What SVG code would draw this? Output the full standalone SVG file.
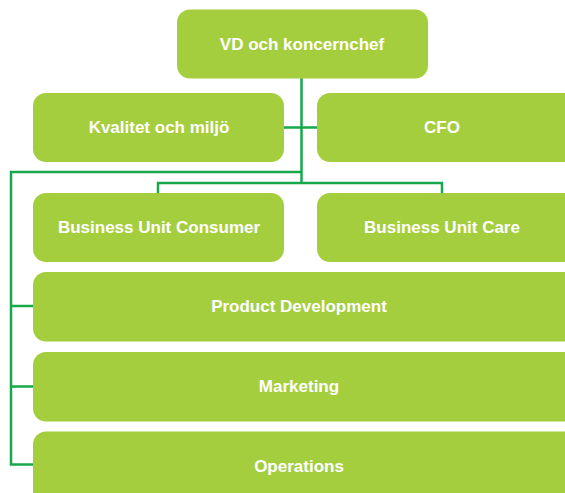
<svg xmlns="http://www.w3.org/2000/svg" width="565" height="493" viewBox="0 0 565 493">
<style>
.box{fill:#a5ce3f}
.lbl{font-family:"Liberation Sans",Arial,sans-serif;font-weight:bold;font-size:17px;fill:#ffffff;text-anchor:middle;dominant-baseline:central}
.con{fill:none;stroke:#17a84b;stroke-width:2.5}
</style>
<rect width="565" height="493" fill="#ffffff"/>
<g id="connectors">
<path class="con" d="M301.5 78 V183"/>
<path class="con" d="M284 127.5 H317"/>
<path class="con" d="M301.5 172 H11 V464.5 H33"/>
<path class="con" d="M11 306 H33"/>
<path class="con" d="M11 386.5 H33"/>
<path class="con" d="M158 193 V183 H442 V193"/>
</g>
<g id="vd"><rect class="box" x="177" y="9.5" width="251" height="69" rx="13"/><text class="lbl" x="302" y="44">VD och koncernchef</text></g>
<g id="kvalitet"><rect class="box" x="33" y="93" width="251" height="69" rx="13"/><text class="lbl" x="159" y="127.5">Kvalitet och miljö</text></g>
<g id="cfo"><rect class="box" x="317" y="93" width="262" height="69" rx="13"/><text class="lbl" x="442" y="127.5">CFO</text></g>
<g id="bu-consumer"><rect class="box" x="33" y="193" width="251" height="69" rx="13"/><text class="lbl" x="159" y="227.5">Business Unit Consumer</text></g>
<g id="bu-care"><rect class="box" x="317" y="193" width="262" height="69" rx="13"/><text class="lbl" x="442" y="227.5">Business Unit Care</text></g>
<g id="product"><rect class="box" x="33" y="272" width="546" height="69.5" rx="13"/><text class="lbl" x="299" y="306.5">Product Development</text></g>
<g id="marketing"><rect class="box" x="33" y="352" width="546" height="69.5" rx="13"/><text class="lbl" x="299" y="386.5">Marketing</text></g>
<g id="operations"><rect class="box" x="33" y="431.5" width="546" height="75" rx="13"/><text class="lbl" x="299" y="466">Operations</text></g>
</svg>
